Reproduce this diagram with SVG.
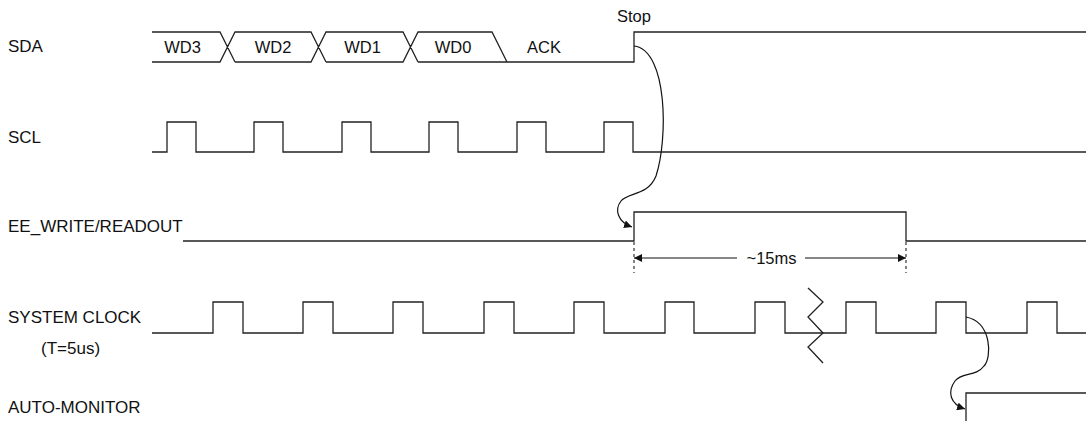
<svg xmlns="http://www.w3.org/2000/svg" width="1086" height="421" viewBox="0 0 1086 421">
<defs>
<style>
.sig{fill:none;stroke:#222;stroke-width:1.3}
.conn{fill:none;stroke:#111;stroke-width:1.2}
.dash{fill:none;stroke:#222;stroke-width:1.1;stroke-dasharray:3,3}
text{font-family:"Liberation Sans",Arial,sans-serif;font-size:16.5px;fill:#111;dominant-baseline:central}
.lbl{font-size:17px}
.mid{text-anchor:middle}
</style>
<marker id="ah" viewBox="0 0 10 10" refX="10" refY="5" markerWidth="8" markerHeight="8" markerUnits="userSpaceOnUse" orient="auto">
<path d="M0,0 L10,5 L0,10 Z" fill="#111"/>
</marker>
<marker id="ahs" viewBox="0 0 10 10" refX="0" refY="5" markerWidth="8" markerHeight="8" markerUnits="userSpaceOnUse" orient="auto">
<path d="M10,0 L0,5 L10,10 Z" fill="#111"/>
</marker>
</defs>
<rect width="1086" height="421" fill="#fff"/>
<g id="sda">
<text class="lbl" x="8" y="46">SDA</text>
<path class="sig" d="M152,32 H220 L235,62 M152,62 H220 L235,32 H311 L326,62 M235,62 H311 L326,32 H403 L418,62 M326,62 H403 L418,32 H492 L507,62 M418,62 H634 V32 H1086"/>
<text class="mid" x="182.5" y="47">WD3</text>
<text class="mid" x="273" y="47">WD2</text>
<text class="mid" x="362.5" y="47">WD1</text>
<text class="mid" x="453" y="47">WD0</text>
<text class="mid" x="544" y="47">ACK</text>
<text class="mid" x="634" y="16">Stop</text>
</g>
<g id="scl">
<text class="lbl" x="8" y="137">SCL</text>
<path class="sig" d="M152,152 H167 V122 H196 V152 H254 V122 H283 V152 H342 V122 H371 V152 H429 V122 H458 V152 H517 V122 H546 V152 H604 V122 H633 V152 H1086"/>
</g>
<g id="ee_write">
<text class="lbl" x="8" y="226">EE_WRITE/READOUT</text>
<path class="sig" d="M183,241 H634 V212 H906 V241 H1086"/>
</g>
<g id="sysclk">
<text class="lbl" x="8" y="317">SYSTEM CLOCK</text>
<text class="lbl" x="41" y="348">(T=5us)</text>
<path class="sig" d="M152,333 H213 V302 H243 V333 H303 V302 H333 V333 H393 V302 H423 V333 H484 V302 H514 V333 H574 V302 H604 V333 H665 V302 H694 V333 H755 V302 H785 V333 H846 V302 H876 V333 H936 V302 H966 V333 H1027 V302 H1057 V333 H1086"/>
<polyline class="sig" points="808,288 823,302 808,317 823,333 808,347 823,363"/>
</g>
<g id="auto_monitor">
<text class="lbl" x="8" y="407">AUTO-MONITOR</text>
<path class="sig" d="M966,421 V393 H1086"/>
</g>
<g id="connectors">
<path class="conn" marker-end="url(#ah)" d="M634,46 C668,50 668,140 656,176 C648,196 628,192 621,201 C614,210 618,222 632,227"/>
<path class="conn" marker-end="url(#ah)" d="M966,317 C992,322 992,358 984,366 C976,377 962,372 955,381 C947,392 950,404 965,409"/>
<path class="dash" d="M634,242 V273 M906,242 V273"/>
<path class="conn" marker-start="url(#ahs)" d="M634,258 H737"/>
<path class="conn" marker-end="url(#ah)" d="M805,258 H906"/>
<text class="mid" x="771.5" y="258">~15ms</text>
</g>
</svg>
